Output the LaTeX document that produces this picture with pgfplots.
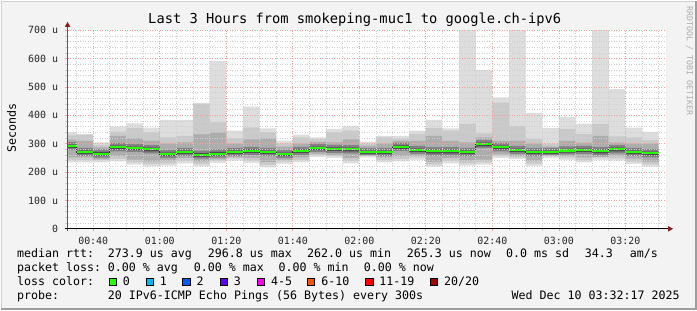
\documentclass[border=0pt]{standalone}
\usepackage{fontspec}
\setmainfont{DejaVu Sans Mono}
\usepackage{pgfplots}
\pgfplotsset{compat=1.18}
\usepackage{pgfplotstable}
\definecolor{bgc}{HTML}{F3F3F3}
\definecolor{gridred}{HTML}{F2A0A0}
\definecolor{gridgrey}{HTML}{CFCFCF}
\definecolor{arrowred}{HTML}{8B1A1A}
\definecolor{smA}{HTML}{DDDDDD}
\definecolor{smB}{HTML}{C9C9C9}
\definecolor{smC}{HTML}{ADADAD}
\definecolor{smD}{HTML}{828282}
\definecolor{smE}{HTML}{4C4C4C}
\definecolor{lc0}{HTML}{26FF00}
\definecolor{lc1}{HTML}{00B8FF}
\definecolor{lc2}{HTML}{0059FF}
\definecolor{lc3}{HTML}{5E00FF}
\definecolor{lc4}{HTML}{FF00FF}
\definecolor{lc6}{HTML}{FF5500}
\definecolor{lc11}{HTML}{FF0000}
\definecolor{lc20}{HTML}{A10000}

% s = start of 5-minute interval (minutes after 00:00), values in microseconds
% (last row only closes the last interval)
\pgfplotstableread{
s      mn  lo2 lo3 lo4 lo5 med hi5 hi4 hi3 hi2 mx
32.28  234 242 252 277 284 291 297 306 314 329 340
35     234 242 252 256 263 270 276 285 310 331 334
40     234 242 245 251 258 265 271 280 287 296 305
45     238 246 256 273 280 287 293 302 328 343 361
50     226 234 244 270 277 284 290 299 319 355 372
55     220 228 238 266 273 280 286 295 310 340 357
60     223 231 241 249 256 263 269 278 300 322 384
65     231 239 249 256 263 270 276 285 305 328 384
70     220 228 238 247 254 261 267 276 333 440 443
75     232 240 245 251 258 265 271 280 340 375 592
80     240 248 252 256 263 270 276 285 300 320 346
85     232 240 250 260 267 274 280 289 315 357 431
90     217 225 235 256 263 270 276 285 319 340 354
95     229 237 243 249 256 263 269 278 290 300 311
100    234 242 252 260 267 274 280 289 300 322 332
105    254 260 264 270 277 284 290 299 306 315 322
110    250 256 261 267 274 281 287 296 305 340 352
115    231 239 249 266 273 280 286 295 315 346 363
120    252 256 258 260 264 270 276 284 292 300 307
125    234 242 252 256 263 270 276 285 300 322 328
130    238 246 256 274 281 288 294 303 310 318 328
135    243 251 257 263 270 277 283 292 310 334 346
140    219 227 237 259 266 273 279 288 328 355 384
145    231 239 249 259 266 273 279 288 310 346 354
150    223 231 241 256 263 270 276 285 305 370 700
155    226 234 244 284 291 298 304 313 322 336 560
160    250 256 262 273 280 287 293 302 310 445 463
165    246 252 257 263 270 277 283 292 310 363 700
170    222 230 240 256 263 270 276 285 300 316 409
175    250 255 258 260 264 270 276 285 290 299 355
180    243 251 256 262 269 276 282 291 310 352 395
185    234 242 252 263 270 277 283 292 304 334 371
190    243 251 253 259 266 273 279 288 328 369 700
195    240 248 258 266 273 280 286 295 304 326 492
200    229 237 247 256 263 270 276 285 300 322 357
205    219 227 237 252 259 266 272 281 300 313 342
210    219 227 237 252 259 266 272 281 300 313 342
}\smoke

\newcommand{\legfont}{\fontsize{11.7}{14}\selectfont}

\begin{document}
\begin{tikzpicture}
% background and frame
\begin{scope}[x=1bp,y=1bp]
\fill[bgc] (0,0) rectangle (697,310);
\draw[color=black!18, line width=1bp] (0.5,0) -- (0.5,309.5) -- (697,309.5);
\draw[color=black!38, line width=2bp] (0,1) -- (696,1) -- (696,310);
\end{scope}

\begin{axis}[
  at={(66.7bp,81.7bp)}, anchor=south west,
  scale only axis, width=600bp, height=199bp,
  xmin=32.28, xmax=212.28, ymin=0, ymax=700,
  axis background/.style={fill=white},
  axis line style={draw=none},
  axis on top,
  grid=both,
  major grid style={color=gridred, line width=0.8bp, dash pattern=on 1bp off 1.5bp},
  minor grid style={color=gridgrey, line width=0.8bp, dash pattern=on 1bp off 1.5bp},
  tick pos=left, tick align=outside,
  major tick length=2.5bp, minor tick length=2.5bp,
  major tick style={color=gridred, line width=0.8bp},
  minor tick style={color=gridgrey, line width=0.8bp},
  xtick={40,60,80,100,120,140,160,180,200},
  xticklabels={00:40,01:00,01:20,01:40,02:00,02:20,02:40,03:00,03:20},
  minor xtick={35,45,50,55,65,70,75,85,90,95,105,110,115,125,130,135,145,150,155,165,170,175,185,190,195,205,210},
  ytick={0,100,200,300,400,500,600,700},
  yticklabels={0,100 u,200 u,300 u,400 u,500 u,600 u,700 u},
  minor ytick={20,40,60,80,120,140,160,180,220,240,260,280,320,340,360,380,420,440,460,480,520,540,560,580,620,640,660,680},
  tick label style={font=\fontsize{10}{12}\selectfont, text=black!85},
  xticklabel style={anchor=base, inner sep=0pt, yshift=-13.3bp},
  yticklabel style={anchor=east, inner sep=0pt, xshift=-6.8bp},
]
% nested smoke bands (outer light -> inner dark), then white below the minimum
\addplot[ybar interval, fill=smA, draw=none] table[x=s,y=mx]{\smoke};
\addplot[ybar interval, fill=smB, draw=none] table[x=s,y=hi2]{\smoke};
\addplot[ybar interval, fill=smC, draw=none] table[x=s,y=hi3]{\smoke};
\addplot[ybar interval, fill=smD, draw=none] table[x=s,y=hi4]{\smoke};
\addplot[ybar interval, fill=smE, draw=none] table[x=s,y=hi5]{\smoke};
\addplot[ybar interval, fill=smD, draw=none] table[x=s,y=lo5]{\smoke};
\addplot[ybar interval, fill=smC, draw=none] table[x=s,y=lo4]{\smoke};
\addplot[ybar interval, fill=smB, draw=none] table[x=s,y=lo3]{\smoke};
\addplot[ybar interval, fill=smA, draw=none] table[x=s,y=lo2]{\smoke};
\addplot[ybar interval, fill=white, draw=none] table[x=s,y=mn]{\smoke};
% median
\addplot[const plot mark left, color=black!85, line width=0.8bp] table[x=s,y=med]{\smoke};
\addplot[jump mark left, color=lc0, line width=2.2bp] table[x=s,y=med]{\smoke};
\end{axis}

\begin{scope}[x=1bp,y=1bp]
% axis lines with arrows
\draw[color=black!65, line width=1bp] (66.7,79.5) -- (66.7,285);
\fill[arrowred] (66.7,289) -- (63.9,284) -- (69.5,284) -- cycle;
\draw[color=black, line width=1bp] (64,81.7) -- (669,81.7);
\fill[arrowred] (673.5,81.7) -- (668.5,84.5) -- (668.5,78.9) -- cycle;

% title and labels
\node[anchor=base, inner sep=0pt, font=\fontsize{13.8}{16}\selectfont] at (354.5,287.8) {Last 3 Hours from smokeping-muc1 to google.ch-ipv6};
\node[rotate=90, inner sep=0pt, font=\fontsize{11.7}{14}\selectfont] at (10.5,182.5) {Seconds};
\node[rotate=-90, inner sep=0pt, font=\fontsize{8.3}{10}\selectfont, text=black!32] at (690,250) {RRDTOOL / TOBI OETIKER};

% legend lines
\begin{scope}[every node/.style={anchor=base west, inner sep=0pt, font=\legfont}]
\node at (16,53) {median rtt:};
\node at (107,53) {273.9 us avg};
\node at (207,53) {296.8 us max};
\node at (306.6,53) {262.0 us min};
\node at (406.6,53) {265.3 us now};
\node at (506,53) {0.0 ms sd};
\node at (585,53) {34.3};
\node at (630,53) {am/s};
\node at (16,38.8) {packet loss:};
\node at (107,38.8) {0.00 \% avg};
\node at (193,38.8) {0.00 \% max};
\node at (278,38.8) {0.00 \% min};
\node at (363.5,38.8) {0.00 \% now};
\node at (16,24.7) {loss color:};
\node at (122,24.7) {0};
\node at (159,24.7) {1};
\node at (195.9,24.7) {2};
\node at (233.3,24.7) {3};
\node at (270.6,24.7) {4-5};
\node at (320.8,24.7) {6-10};
\node at (379,24.7) {11-19};
\node at (443.9,24.7) {20/20};
\node at (16,10.5) {probe:};
\node at (107,10.5) {20 IPv6-ICMP Echo Pings (56 Bytes) every 300s};
\node at (511.5,10.5) {Wed Dec 10 03:32:17 2025};
\end{scope}
\foreach \bx/\bc in {108.3/lc0,145.3/lc1,182.2/lc2,219.6/lc3,256.9/lc4,307.1/lc6,365.3/lc11,430.2/lc20}{
  \filldraw[fill=\bc, draw=black, line width=0.8bp] (\bx,25.1) rectangle ++(7.4,7.4);
}
\end{scope}
\end{tikzpicture}
\end{document}
